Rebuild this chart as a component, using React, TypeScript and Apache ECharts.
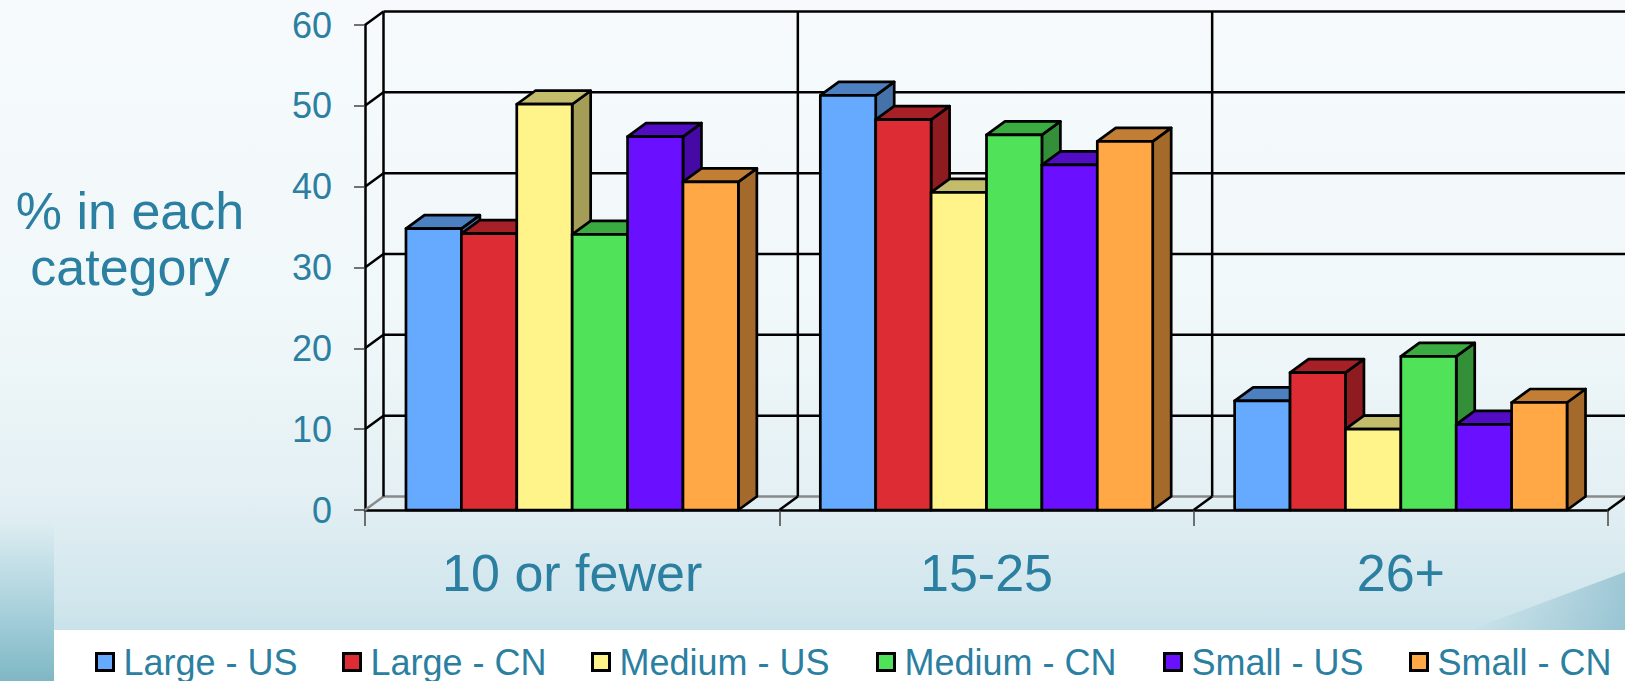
import React, { useEffect, useRef } from "react";
import * as echarts from "echarts";

// Group-size categories along the horizontal axis
const CATEGORIES = ["10 or fewer", "15-25", "26+"];

// Share (%) of respondents in each category, per company size and country
const SERIES_NAMES = ["Large - US", "Large - CN", "Medium - US", "Medium - CN", "Small - US", "Small - CN"];
const LARGE_US = [34.8, 51.3, 13.5];
const LARGE_CN = [34.2, 48.3, 17.0];
const MEDIUM_US = [50.2, 39.3, 10.0];
const MEDIUM_CN = [34.1, 46.4, 19.0];
const SMALL_US = [46.2, 42.7, 10.6];
const SMALL_CN = [40.6, 45.6, 13.3];
const SERIES_VALUES = [LARGE_US, LARGE_CN, MEDIUM_US, MEDIUM_CN, SMALL_US, SMALL_CN];

// Value-axis ticks
const Y_TICKS = [0, 10, 20, 30, 40, 50, 60];

// Face colours of the extruded columns: front, top, right side
const FRONT = ["#66aaff", "#dd2c33", "#fff48a", "#50e35a", "#6a0fff", "#ffa845"];
const TOP = ["#4d80c0", "#a72027", "#c3bd6b", "#3aab40", "#510cc4", "#c27e35"];
const SIDE = ["#4572a8", "#8e1b20", "#a49d58", "#338f38", "#4509a6", "#a36a2c"];

const TEXT = "#2b7fa1";
const FONT = "'Liberation Sans', Arial, Helvetica, sans-serif";

// Oblique projection of the depth axis (pixels)
const DX = 18.5;
const DY = 13.5;
const BAR_FRACTION = 0.1337; // column width as a share of one category band
const LINE_W = 2.5;

// Legend item positions along the bottom strip
const LEGEND_LEFT = [95, 342, 591, 876, 1163, 1409];

export default function App() {
  const ref = useRef<HTMLDivElement>(null);

  useEffect(() => {
    if (!ref.current) return;
    const chart = echarts.init(ref.current, undefined, { renderer: "svg" });

    // Back wall, floor edges and depth lines of the 3-D frame
    const wallSeries = {
      type: "custom",
      name: "wall",
      silent: true,
      z: 1,
      data: Y_TICKS.map((v) => [0, v]),
      renderItem: (params: any, api: any) => {
        const cs = params.coordSys;
        const v = api.value(1);
        const y = api.coord([0, v])[1];
        const xl = cs.x;
        const xr = cs.x + cs.width;
        const band = cs.width / CATEGORIES.length;
        const isFloor = v === 0;
        const children: any[] = [
          {
            type: "line",
            shape: { x1: xl + DX, y1: y - DY, x2: xr + DX, y2: y - DY },
            style: { stroke: isFloor ? "#8a8a8a" : "#000", lineWidth: LINE_W },
          },
          {
            type: "line",
            shape: { x1: xl, y1: y, x2: xl + DX, y2: y - DY },
            style: { stroke: isFloor ? "#8a8a8a" : "#000", lineWidth: LINE_W },
          },
        ];
        if (isFloor) {
          const yTop = cs.y;
          for (let k = 0; k <= CATEGORIES.length; k++) {
            const x = xl + k * band;
            children.push({
              type: "line",
              shape: { x1: x + DX, y1: y - DY, x2: x + DX, y2: yTop - DY },
              style: { stroke: "#000", lineWidth: LINE_W },
            });
            if (k > 0) {
              children.push({
                type: "line",
                shape: { x1: x, y1: y, x2: x + DX, y2: y - DY },
                style: { stroke: "#000", lineWidth: LINE_W },
              });
            }
          }
        }
        return { type: "group", children };
      },
    };

    const barSeries = SERIES_NAMES.map((name, i) => ({
      type: "custom",
      name,
      z: 2,
      itemStyle: { color: FRONT[i], borderColor: "#000", borderWidth: 2 },
      data: SERIES_VALUES[i].map((v, c) => [c, v]),
      renderItem: (_params: any, api: any) => {
        const c = api.value(0);
        const v = api.value(1);
        const base = api.coord([c, 0]);
        const top = api.coord([c, v]);
        const band = api.size([1, 0])[0];
        const bw = band * BAR_FRACTION;
        const x0 = base[0] - (bw * SERIES_NAMES.length) / 2 + i * bw;
        const yb = base[1];
        const yt = top[1];
        const stroke = { stroke: "#000", lineWidth: 2.7, lineJoin: "round" };
        return {
          type: "group",
          children: [
            {
              type: "polygon",
              shape: {
                points: [
                  [x0 + bw, yt],
                  [x0 + bw + DX, yt - DY],
                  [x0 + bw + DX, yb - DY],
                  [x0 + bw, yb],
                ],
              },
              style: { fill: SIDE[i], ...stroke },
            },
            {
              type: "polygon",
              shape: {
                points: [
                  [x0, yt],
                  [x0 + bw, yt],
                  [x0 + bw + DX, yt - DY],
                  [x0 + DX, yt - DY],
                ],
              },
              style: { fill: TOP[i], ...stroke },
            },
            {
              type: "rect",
              shape: { x: x0, y: yt, width: bw, height: yb - yt },
              style: { fill: FRONT[i], ...stroke },
            },
          ],
        };
      },
    }));

    const legends = SERIES_NAMES.map((name, i) => ({
      left: LEGEND_LEFT[i],
      top: 644,
      padding: 0,
      icon: "rect",
      itemWidth: 17,
      itemHeight: 17,
      itemStyle: { color: FRONT[i], borderColor: "#000", borderWidth: 3 },
      selectedMode: false,
      data: [name],
      textStyle: { fontSize: 36, color: TEXT, fontFamily: FONT, padding: [0, 0, 0, 5] },
    }));

    chart.setOption({
      animation: false,
      backgroundColor: {
        type: "linear",
        x: 0,
        y: 0,
        x2: 0,
        y2: 1,
        colorStops: [
          { offset: 0, color: "#f6fafc" },
          { offset: 0.45, color: "#f1f8fa" },
          { offset: 0.72, color: "#e4f0f4" },
          { offset: 0.88, color: "#d1e6ed" },
          { offset: 1, color: "#bcdbe3" },
        ],
      },
      textStyle: { fontFamily: FONT },
      grid: { left: 365, right: 17, top: 25, bottom: 171, containLabel: false },
      xAxis: {
        type: "category",
        data: CATEGORIES,
        axisLine: { show: true, lineStyle: { color: "#000", width: LINE_W } },
        axisTick: { show: true, length: 16, lineStyle: { color: "#444", width: 1.5 } },
        axisLabel: { fontSize: 52, color: TEXT, margin: 37, fontFamily: FONT },
        splitLine: { show: false },
      },
      yAxis: {
        type: "value",
        min: 0,
        max: 60,
        interval: 10,
        axisLine: { show: true, lineStyle: { color: "#000", width: LINE_W } },
        axisTick: { show: true, length: 11, lineStyle: { color: "#444", width: 1.5 } },
        axisLabel: { fontSize: 36, color: TEXT, margin: 33, fontFamily: FONT },
        splitLine: { show: false },
      },
      legend: legends,
      graphic: [
        {
          type: "rect",
          silent: true,
          z: 0,
          shape: { x: 0, y: 520, width: 54, height: 161 },
          style: {
            fill: {
              type: "linear",
              x: 0,
              y: 0,
              x2: 0,
              y2: 1,
              colorStops: [
                { offset: 0, color: "rgba(150,200,212,0)" },
                { offset: 0.45, color: "rgba(140,195,208,0.45)" },
                { offset: 1, color: "#80b7c5" },
              ],
            },
          },
        },
        {
          type: "polygon",
          silent: true,
          z: 0,
          shape: { points: [[1470, 630], [1625, 572], [1625, 630]] },
          style: {
            fill: {
              type: "linear",
              x: 0,
              y: 0,
              x2: 1,
              y2: 0,
              colorStops: [
                { offset: 0, color: "rgba(120,178,196,0)" },
                { offset: 1, color: "rgba(112,172,192,0.55)" },
              ],
            },
          },
        },
        {
          type: "rect",
          silent: true,
          z: 1,
          shape: { x: 54, y: 630, width: 1571, height: 51 },
          style: { fill: "#ffffff" },
        },
        {
          type: "text",
          silent: true,
          z: 5,
          x: 130,
          y: 183,
          style: {
            text: "% in each\ncategory",
            fontSize: 52,
            lineHeight: 56,
            fill: TEXT,
            fontFamily: FONT,
            align: "center",
            verticalAlign: "top",
          },
        },
      ],
      series: [wallSeries, ...barSeries],
    });

    return () => chart.dispose();
  }, []);

  return (
    <div
      ref={ref}
      style={{ position: "fixed", left: 0, top: 0, width: 1625, height: 681 }}
    />
  );
}
